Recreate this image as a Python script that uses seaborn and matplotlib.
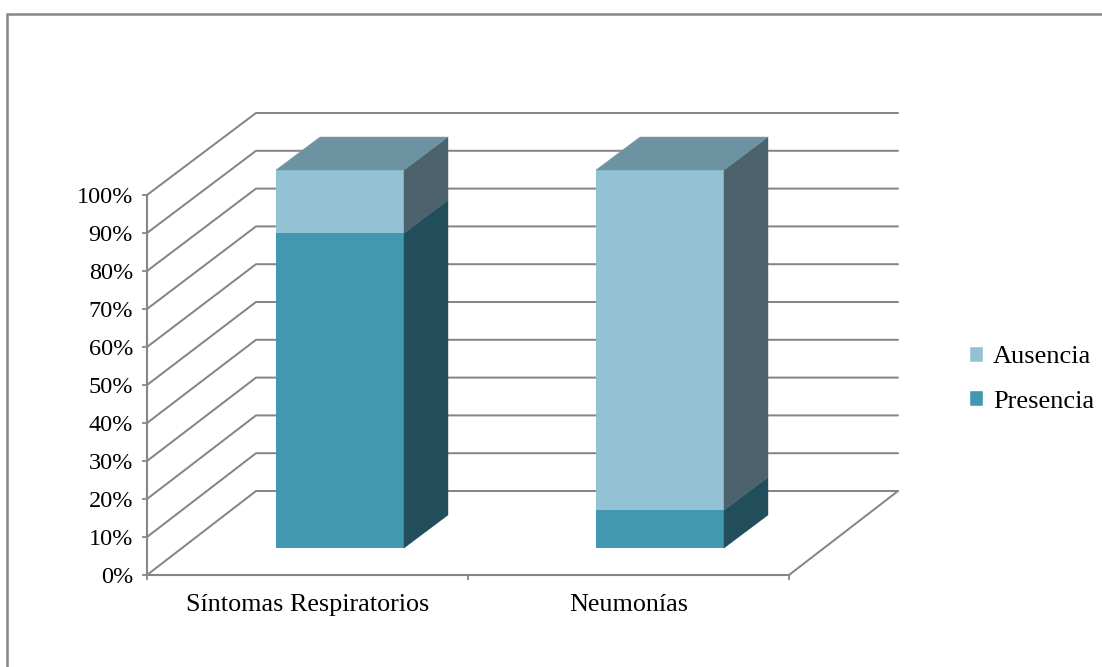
import matplotlib
matplotlib.use("Agg")
import matplotlib.pyplot as plt
from matplotlib.patches import Patch, Polygon, Rectangle
import seaborn as sns

categorias = ["Síntomas Respiratorios", "Neumonías"]
presencia = [83.3, 10.0]
ausencia = [16.7, 90.0]
marcas_y = [0, 10, 20, 30, 40, 50, 60, 70, 80, 90, 100]

GRIS = "#868686"
CLARO, OSCURO = "#93C2D4", "#4198B0"
TECHO, LADO_CLARO, LADO_OSCURO = "#6D93A2", "#4C636D", "#224E5C"
ANCHO_BARRA = 0.4
W, H = 1102, 667

sns.set_theme(style="white")
plt.rcParams["font.family"] = ["Liberation Serif", "DejaVu Serif"]
TAM_LEYENDA = 19
TAM_CATEGORIA = 18.8
TAM_EJE = 17.5


def caja(x0, y_sup, x1, y_inf):
    """Rectángulo en píxeles (origen arriba a la izquierda) a fracción de figura."""
    return [x0 / W, 1 - y_inf / H, (x1 - x0) / W, (y_inf - y_sup) / H]


fig = plt.figure(figsize=(W / 100, H / 100), dpi=100, facecolor="white")
fig.add_artist(Rectangle((6.5 / W, -0.02), 1.1, 1.02 - 13.5 / H, fill=False,
                         edgecolor=GRIS, linewidth=1.8, transform=fig.transFigure))

# Ejes del plano frontal: marcas, etiquetas y paredes del fondo
ax = fig.add_axes(caja(147, 195, 789, 575), facecolor="none")
ax.set_xlim(-0.5, 1.5)
ax.set_ylim(0, 100)
for lado in ("top", "right"):
    ax.spines[lado].set_visible(False)
for lado in ("left", "bottom"):
    ax.spines[lado].set_color(GRIS)
    ax.spines[lado].set_linewidth(1.5)
ax.set_yticks(marcas_y)
ax.set_yticklabels([f"{v}%" for v in marcas_y], fontsize=TAM_EJE, color="black")
ax.set_xticks([-0.5, 0.5, 1.5])
ax.set_xticklabels([])
ax.set_xticks([0, 1], labels=categorias, minor=True, fontsize=TAM_CATEGORIA, color="black")
ax.tick_params(axis="both", which="major", length=3.6, width=1.3, color=GRIS, left=True, bottom=True)
ax.tick_params(axis="x", which="minor", length=0, pad=14)
ax.tick_params(axis="y", which="major", pad=6.5)

# Profundidad del fondo expresada en unidades de los ejes
fondo_x = 2 * 109 / 642
fondo_y = 100 * 84 / 380
escala_fondo = 378 / 380
for v in marcas_y:
    y_fondo = v * escala_fondo + fondo_y
    ax.plot([-0.5, -0.5 + fondo_x, 1.5 + fondo_x], [v, y_fondo, y_fondo],
            color=GRIS, linewidth=1.45, clip_on=False, zorder=1)
ax.plot([1.5, 1.5 + fondo_x], [0, fondo_y], color=GRIS, linewidth=1.45, clip_on=False, zorder=1)

# Barras apiladas sobre su propio plano, adelantado respecto al fondo
barras = fig.add_axes(caja(180, 170, 820, 548), facecolor="none")
sns.barplot(x=categorias, y=presencia, color=OSCURO, width=ANCHO_BARRA, saturation=1,
            linewidth=0, ax=barras)
sns.barplot(x=categorias, y=ausencia, bottom=presencia, color=CLARO, width=ANCHO_BARRA,
            saturation=1, linewidth=0, ax=barras)
barras.set_xlim(-0.5, 1.5)
barras.set_ylim(0, 100)
barras.axis("off")

prof_x = 44 / 320
prof_y = 100 * 33 / 378
for i, (p, a) in enumerate(zip(presencia, ausencia)):
    izq, der = i - ANCHO_BARRA / 2, i + ANCHO_BARRA / 2
    total = p + a
    caras = [
        ([(der, 0), (der + prof_x, prof_y), (der + prof_x, p + prof_y), (der, p)], LADO_OSCURO),
        ([(der, p), (der + prof_x, p + prof_y), (der + prof_x, total + prof_y), (der, total)], LADO_CLARO),
        ([(izq, total), (der, total), (der + prof_x, total + prof_y), (izq + prof_x, total + prof_y)], TECHO),
    ]
    for vertices, color in caras:
        barras.add_patch(Polygon(vertices, closed=True, facecolor=color, edgecolor=color,
                                 linewidth=0.3, clip_on=False))

manijas = [Patch(facecolor=CLARO, label="Ausencia"), Patch(facecolor=OSCURO, label="Presencia")]
fig.legend(handles=manijas, loc="upper left", bbox_to_anchor=(969 / W, 1 - 346 / H),
           frameon=False, fontsize=TAM_LEYENDA, labelcolor="black", borderpad=0, borderaxespad=0,
           handlelength=0.54, handleheight=0.54, handletextpad=0.36, labelspacing=0.84)

fig.savefig("out.png", dpi=100)
